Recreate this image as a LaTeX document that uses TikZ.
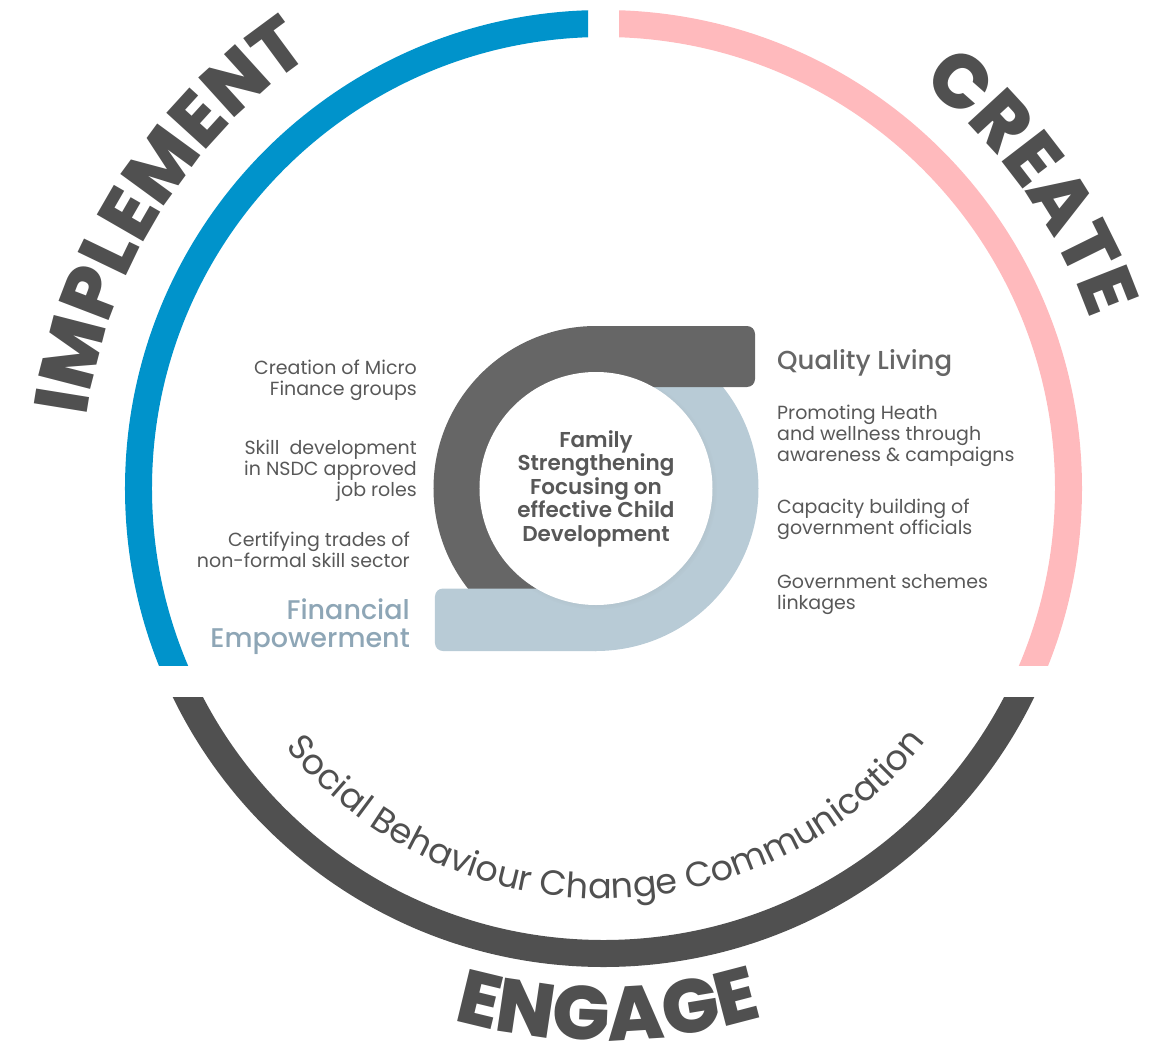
\documentclass[tikz,border=0pt]{standalone}
\usepackage{fontspec}
\setmainfont{Poppins}
\newfontfamily\medfont{Poppins Medium}
\newfontfamily\semifont{Poppins SemiBold}
\newfontfamily\heavyfont{Poppins ExtraBold}
\usetikzlibrary{decorations.text, shadows}

\definecolor{bluearc}{HTML}{0093CB}
\definecolor{pinkarc}{HTML}{FFBABD}
\definecolor{darkarc}{HTML}{505050}
\definecolor{darkring}{HTML}{666666}
\definecolor{lightring}{HTML}{B8CBD6}
\definecolor{txtgray}{HTML}{585858}
\definecolor{titlegray}{HTML}{666666}
\definecolor{finblue}{HTML}{8EA6B6}

\newcommand\bigword{\heavyfont\fontsize{76}{80}\selectfont}
\newcommand\sbcfont{\fontsize{35}{40}\selectfont}

\begin{document}
\begin{tikzpicture}[x=1pt, y=1pt,
  bigarc/.style={line width=27pt},
  sidetext/.style={inner sep=0pt, text=txtgray, font=\fontsize{19}{21}\selectfont},
  headtext/.style={inner sep=0pt, font=\medfont\fontsize{26}{28}\selectfont}]

  % Big circle and ring sizes
  \def\R{465}
  \def\ro{162.5}
  \def\ri{116}
  \def\cx{-7.5}

  \useasboundingbox (-603.5,-558.5) rectangle (557.5,488.5);

  % === Outer circle in three pieces
  \begin{scope}
    \clip (-700,-176.5) rectangle (-15.5,600);
    \draw[bigarc, bluearc] (0,0) circle[radius=\R];
  \end{scope}
  \begin{scope}
    \clip (15.5,-176.5) rectangle (700,600);
    \draw[bigarc, pinkarc] (0,0) circle[radius=\R];
  \end{scope}
  \begin{scope}
    \clip (-700,-208.5) rectangle (700,-600);
    \draw[bigarc, darkarc] (0,0) circle[radius=\R];
  \end{scope}

  % === Words round the circle
  \path[decorate, decoration={text along path, text color=darkarc, text align=center,
      text={|\bigword|IMPLEMENT}}]
    (188:522) arc[start angle=188, end angle=108, radius=522];
  \path[decorate, decoration={text along path, text color=darkarc, text align=center,
      text={|\bigword|CREATE}}]
    (75.5:515) arc[start angle=75.5, end angle=-4.5, radius=515];
  \path[decorate, decoration={text along path, text color=darkarc, text align=center,
      text={|\bigword|ENGAGE}}]
    (230.5:552) arc[start angle=230.5, end angle=310.5, radius=552];
  \path[decorate, decoration={text along path, text color=darkarc, text align=center,
      text={|\sbcfont|Social Behaviour Change Communication}}]
    (200:410) arc[start angle=200, end angle=341, radius=410];

  % === Inner ring: dark half, light half, tabs
  \fill[darkring] (\cx,\ro) arc[start angle=90, end angle=270, radius=\ro]
    -- (\cx,-\ri) arc[start angle=270, end angle=90, radius=\ri] -- cycle;
  \fill[lightring] (\cx,\ro) arc[start angle=90, end angle=-90, radius=\ro]
    -- (\cx,-\ri) arc[start angle=-90, end angle=90, radius=\ri] -- cycle;
  \fill[lightring] (\cx,-100) [rounded corners=8] -- (-168.5,-100) -- (-168.5,-\ro)
    [sharp corners] -- (\cx,-\ro) -- cycle;
  \fill[darkring] (\cx,\ro) [rounded corners=8] -- (151.5,\ro) -- (151.5,101.5)
    [sharp corners] -- (\cx,101.5) -- cycle;

  % Centre
  \node (core) [circle, fill=white, minimum size=233pt, inner sep=0pt, align=center,
    circular drop shadow={shadow scale=1.03, opacity=0.25, shadow xshift=1pt, shadow yshift=-1pt},
    text=txtgray, font=\semifont\fontsize{21.5}{23.5}\selectfont] at (\cx,0)
    {Family\\Strengthening\\Focusing on\\effective Child\\Development};

  % === Left labels
  \node (micro) [sidetext, anchor=north east, align=right] at (-186.5,128.5)
    {Creation of Micro\\Finance groups};
  \node (skill) [sidetext, anchor=north east, align=right] at (-186.5,48.5)
    {Skill\ \ development\\in NSDC approved\\job roles};
  \node (trades) [sidetext, anchor=north east, align=right] at (-193.5,-43.5)
    {Certifying trades of\\non-formal skill sector};
  \node (finance) [headtext, text=finblue, anchor=north east, align=right,
    font=\medfont\fontsize{27}{28}\selectfont] at (-193.5,-110.5)
    {Financial\\Empowerment};

  % === Right labels
  \node (quality) [headtext, text=titlegray, anchor=north west] at (173.5,139.5)
    {Quality Living};
  \node (health) [sidetext, anchor=north west, align=left] at (173.5,83.5)
    {Promoting Heath\\and wellness through\\awareness \& campaigns};
  \node (capacity) [sidetext, anchor=north west, align=left] at (173.5,-10.5)
    {Capacity building of\\government officials};
  \node (schemes) [sidetext, anchor=north west, align=left] at (173.5,-85.5)
    {Government schemes\\linkages};

\end{tikzpicture}
\end{document}
